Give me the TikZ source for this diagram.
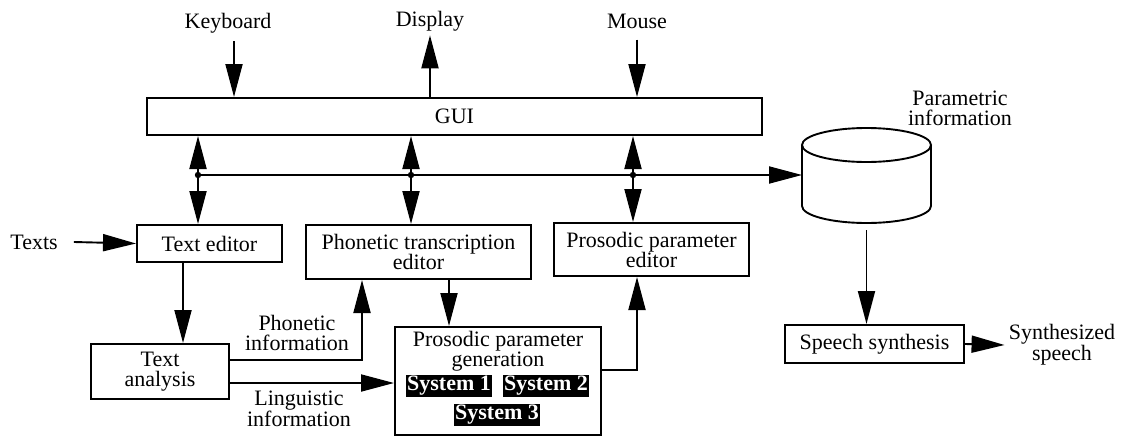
\documentclass[tikz,border=0pt]{standalone}
\usepackage{fontspec}
\setmainfont{Liberation Serif}
\usetikzlibrary{arrows.meta}
\tikzset{
  box/.style={draw, line width=2pt, align=center, inner sep=0pt},
  sysbox/.style={fill=black, text=white, inner sep=1.2pt,
    font=\fontsize{22}{20}\selectfont\bfseries},
  lbl/.style={align=center},
}
\begin{document}
\begin{tikzpicture}[x=1pt, y=-1pt, line width=1.9pt,
  >={Triangle[length=33pt,width=17pt]},
  every node/.append style={font=\fontsize{22}{20}\selectfont}]
\useasboundingbox (0,0) rectangle (1121,439);

\node[box, minimum width=615pt, minimum height=37pt] (gui) at (454.5,116.5) {GUI};
\node[box, minimum width=145pt, minimum height=37pt] (ted) at (209.5,243.5) {Text editor};
\node[box, minimum width=225pt, minimum height=54pt] (ph) at (418.5,252) {Phonetic transcription\\editor};
\node[box, minimum width=195pt, minimum height=53pt] (pe) at (651.5,249.5) {Prosodic parameter\\editor};
\node[box, minimum width=138pt, minimum height=55pt] (ta) at (160,371.5) {Text\\analysis};
\node[box, minimum width=206pt, minimum height=108pt] (gen) at (498,381) {};
\node[box, minimum width=179pt, minimum height=38pt] (sp) at (874.5,344) {Speech synthesis};

\node[lbl] (gentxt) at (498,351) {Prosodic parameter\\generation};
\node[sysbox] (sys1) at (449,386) {System 1};
\node[sysbox] (sys2) at (546,386) {System 2};
\node[sysbox] (sys3) at (497,415) {System 3};

\node (kb) at (228,23) {Keyboard};
\node (dsp) at (430,21) {Display};
\node (ms) at (637,21) {Mouse};
\node (txt) at (34,242) {Texts};
\node[lbl] (par) at (960,108) {Parametric\\information};
\node[lbl] (syn) at (1062,345) {Synthesized\\speech};
\node[lbl] (phinf) at (297,333) {Phonetic\\information};
\node[lbl] (lginf) at (299,409) {Linguistic\\information};

% parametric store
\coordinate (dbtop) at (866.5,145);
\coordinate (dbbot) at (866.5,206);
\coordinate (dbw) at (802,175);
\draw (dbtop) ellipse[x radius=64.5, y radius=17];
\draw (802,145) -- (802,206) arc[start angle=180, end angle=0, x radius=64.5, y radius=17] -- (931,145);

% bus
\coordinate (j1) at (198,175);
\coordinate (j2) at (411,175);
\coordinate (j3) at (633,175);
\draw[->] (j1) -- (dbw);
\foreach \j/\b in {j1/ted, j2/ph, j3/pe} {
  \draw[<->] (\j |- gui.south) -- (\j |- \b.north);
  \fill (\j) circle (3.2pt);
}

\path ([xshift=6pt]kb.south) coordinate (kbx);
\draw[->] ([yshift=-4pt]kbx) -- (kbx |- gui.north);
\draw[->] (dsp.south |- gui.north) -- (dsp.south);
\draw[->] ([yshift=-7pt]ms.south) -- (ms.south |- gui.north);
\draw[->] ([xshift=12pt]txt.east) -- (ted.west);

\path ([xshift=-26.5pt]ted.south) coordinate (a1);
\draw[->] (a1) -- (a1 |- ta.north);
\draw[->] ([yshift=11.5pt]ta.east) -| ([xshift=-56.5pt]ph.south);
\draw[->] ([yshift=-11.5pt]ta.east) coordinate (l0) -- (l0 -| gen.west);
\path ([xshift=30.5pt]ph.south) coordinate (a2);
\draw[->] (a2) -- (a2 |- gen.north);
\draw[->] ([yshift=11pt]gen.east) -| ([xshift=-14.5pt]pe.south);

\draw[->] ([yshift=-24pt]dbbot) -- (dbbot |- sp.north);
\draw[->] (sp.east) -- (syn.west);
\end{tikzpicture}
\end{document}
